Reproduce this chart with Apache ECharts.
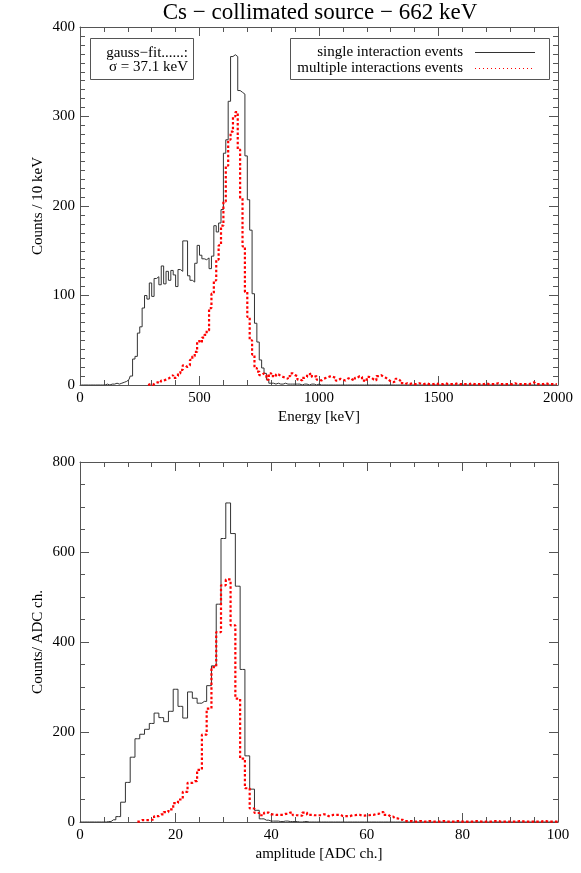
<!DOCTYPE html>
<html>
<head>
<meta charset="utf-8">
<title>Cs collimated source</title>
<script src="https://cdn.jsdelivr.net/npm/echarts/dist/echarts.min.js"></script>
<style>
  html, body { margin: 0; padding: 0; background: #fff; }
  #chart { width: 581px; height: 873px; }
</style>
</head>
<body>
<div id="chart"></div>
<script>
// energy spectrum, 10 keV bins starting at 0 keV (one row = 100 keV)
const energyBinKeV = 10;
const singleEnergy = [
  0, 0, 0, 0, 0, 0, 0, 0, 0, 0,
  0, 1, 0, 1, 1, 2, 1, 2, 3, 4,
  6, 10, 29, 32, 58, 65, 86, 100, 96, 114,
  99, 119, 121, 112, 133, 113, 127, 117, 128, 123,
  110, 129, 127, 161, 161, 122, 117, 115, 136, 156,
  145, 141, 140, 142, 130, 144, 178, 171, 181, 196,
  259, 274, 317, 367, 369, 367, 329, 327, 325, 256,
  207, 173, 102, 69, 48, 28, 19, 13, 6, 2,
  2, 1, 2, 1, 1, 2, 1, 1, 1, 1,
  1, 1, 0, 1, 1, 0, 1, 1, 0, 1,
  0, 0, 0, 0, 0, 0, 0, 0, 0, 0,
  0, 0, 0, 0, 0, 0, 0, 0, 0, 0,
  0, 0, 0, 0, 0, 0, 0, 0, 0, 0,
  0, 0, 0, 0, 0, 0, 0, 0, 0, 0,
  0, 0, 0, 0, 0, 0, 0, 0, 0, 0,
  0, 0, 0, 0, 0, 0, 0, 0, 0, 0,
  0, 0, 0, 0, 0, 0, 0, 0, 0, 0,
  0, 0, 0, 0, 0, 0, 0, 0, 0, 0,
  0, 0, 0, 0, 0, 0, 0, 0, 0, 0,
  0, 0, 0, 0, 0, 0, 0, 0, 0, 0
];
const multipleEnergy = [
  null, null, null, null, null, null, null, null, null, null,
  null, null, null, null, null, null, null, null, null, null,
  null, null, null, null, null, null, null, null, 0, 1,
  0, 2, 3, 2, 5, 6, 7, 9, 11, 8,
  10, 13, 17, 22, 20, 22, 28, 32, 37, 49,
  47, 53, 56, 61, 86, 102, 117, 140, 156, 178,
  205, 245, 274, 283, 300, 305, 263, 209, 155, 104,
  76, 50, 34, 19, 15, 11, 13, 11, 6, 13,
  10, 9, 12, 10, 9, 8, 7, 10, 13, 11,
  10, 6, 5, 8, 9, 12, 13, 9, 10, 6,
  5, 7, 8, 9, 10, 9, 8, 5, 7, 6,
  5, 7, 8, 6, 5, 8, 10, 9, 5, 4,
  9, 8, 6, 5, 10, 11, 9, 8, 6, 4,
  3, 4, 7, 5, 2, 1, 2, 1, 2, 1,
  1, 2, 1, 1, 2, 1, 1, 1, 2, 1,
  1, 1, 2, 1, 1, 1, 1, 2, 1, 1,
  1, 1, 1, 2, 1, 1, 1, 1, 1, 2,
  1, 1, 1, 1, 2, 1, 1, 1, 1, 1,
  1, 2, 1, 1, 1, 1, 1, 1, 2, 3,
  1, 1, 1, 1, 2, 1, 1, 1, 1, 1
];

// amplitude spectrum, one value per ADC channel 0..100
const singleAdc = [
  0, 0, 0, 0, 0, 0, 1, 5, 12, 44,
  88, 144, 185, 195, 206, 219, 242, 232, 223, 246,
  295, 257, 231, 289, 275, 264, 268, 303, 347, 484,
  630, 709, 641, 524, 339, 147, 73, 26, 7, 4,
  2, 2, 1, 2, 1, 1, 0, 1, 0, 0,
  0, 0, 0, 0, 0, 0, 0, 0, 0, 0,
  0, 0, 0, 0, 0, 0, 0, 0, 0, 0,
  0, 0, 0, 0, 0, 0, 0, 0, 0, 0,
  0, 0, 0, 0, 0, 0, 0, 0, 0, 0,
  0, 0, 0, 0, 0, 0, 0, 0, 0, 0,
  0
];
const multipleAdc = [
  null, null, null, null, null, null, null, null, null, null,
  null, null, 1, 4, 4, 5, 13, 17, 22, 28,
  42, 50, 67, 87, 91, 116, 194, 252, 344, 422,
  526, 539, 437, 274, 141, 75, 30, 20, 15, 21,
  17, 16, 16, 18, 21, 15, 14, 21, 16, 15,
  15, 17, 13, 16, 16, 13, 13, 15, 16, 14,
  15, 16, 18, 22, 16, 12, 8, 5, 2, 2,
  1, 2, 1, 2, 1, 1, 2, 1, 1, 2,
  1, 1, 1, 2, 1, 1, 1, 2, 1, 1,
  1, 1, 2, 1, 1, 1, 1, 2, 1, 1,
  1
];

const serif = '"Liberation Serif", "Times New Roman", serif';
const frameColor = '#555';

// histogram bins -> [center, count] pairs, empty bins dropped
function toPoints(counts, width, offset) {
  const pts = [];
  counts.forEach((c, i) => {
    if (c != null) pts.push([i * width + offset, c]);
  });
  return pts;
}

function xAxisFor(gridIndex, max, interval, minorSplit, position, name) {
  return {
    type: 'value', gridIndex: gridIndex, min: 0, max: max, interval: interval, position: position,
    name: name || '', nameLocation: 'middle', nameGap: 25, nameMoveOverlap: false,
    nameTextStyle: {fontFamily: serif, fontSize: 15, color: '#000'},
    axisLine: {show: true, onZero: false, lineStyle: {color: frameColor, width: 1}},
    axisTick: {show: true, inside: true, length: 9, lineStyle: {color: frameColor}},
    minorTick: {show: true, splitNumber: minorSplit, length: 5, lineStyle: {color: frameColor}},
    axisLabel: {show: position === 'bottom', margin: 6, fontFamily: serif, fontSize: 15, color: '#000',
      formatter: v => String(v)},
    splitLine: {show: false}
  }
}

function yAxisFor(gridIndex, max, interval, minorSplit, position, name) {
  return {
    type: 'value', gridIndex: gridIndex, min: 0, max: max, interval: interval, position: position,
    name: name || '', nameLocation: 'middle', nameGap: 34, nameRotate: 90, nameMoveOverlap: false,
    nameTextStyle: {fontFamily: serif, fontSize: 15, color: '#000'},
    axisLine: {show: true, onZero: false, lineStyle: {color: frameColor, width: 1}},
    axisTick: {show: true, inside: true, length: 9, lineStyle: {color: frameColor}},
    minorTick: {show: true, splitNumber: minorSplit, length: 5, lineStyle: {color: frameColor}},
    axisLabel: {show: position === 'left', margin: 5, fontFamily: serif, fontSize: 15, color: '#000',
      formatter: v => String(v)},
    splitLine: {show: false}
  }
}

const singleStyle = {color: '#333', width: 1};
const multipleStyle = {color: '#ff0000', width: 2.2, type: [2.5, 2.2]};

const chart = echarts.init(document.getElementById('chart'), null, {renderer: 'canvas'});
chart.setOption({
  animation: false,
  backgroundColor: '#fff',
  grid: [
    {left: 80, right: 23, top: 27, bottom: 488},
    {left: 80, right: 23, top: 462, bottom: 51}
  ],
  xAxis: [
    xAxisFor(0, 2000, 500, 5, 'bottom', 'Energy [keV]'),
    xAxisFor(0, 2000, 500, 5, 'top'),
    xAxisFor(1, 100, 20, 4, 'bottom', 'amplitude [ADC ch.]'),
    xAxisFor(1, 100, 20, 4, 'top')
  ],
  yAxis: [
    yAxisFor(0, 400, 100, 10, 'left', 'Counts / 10 keV'),
    yAxisFor(0, 400, 100, 10, 'right'),
    yAxisFor(1, 800, 200, 4, 'left', 'Counts/ ADC ch.'),
    yAxisFor(1, 800, 200, 4, 'right')
  ],
  series: [
    {
      name: 'single interaction events', type: 'line', step: 'middle', symbol: 'none',
      xAxisIndex: 0, yAxisIndex: 0, lineStyle: singleStyle,
      data: toPoints(singleEnergy, energyBinKeV, energyBinKeV / 2)
    },
    {
      name: 'multiple interactions events', type: 'line', step: 'middle', symbol: 'none',
      xAxisIndex: 0, yAxisIndex: 0, lineStyle: multipleStyle,
      data: toPoints(multipleEnergy, energyBinKeV, energyBinKeV / 2)
    },
    {
      name: 'single ADC', type: 'line', step: 'middle', symbol: 'none',
      xAxisIndex: 2, yAxisIndex: 2, lineStyle: singleStyle,
      data: toPoints(singleAdc, 1, 0)
    },
    {
      name: 'multiple ADC', type: 'line', step: 'middle', symbol: 'none',
      xAxisIndex: 2, yAxisIndex: 2, lineStyle: multipleStyle,
      data: toPoints(multipleAdc, 1, 0)
    }
  ],
  graphic: [
    {
      type: 'text', x: 320, y: 13,
      style: {text: 'Cs \u2212 collimated source \u2212 662 keV', fill: '#000', fontFamily: serif, fontSize: 23,
        textAlign: 'center', textVerticalAlign: 'middle', align: 'center', verticalAlign: 'middle'}
    },
    // fit box
    {type: 'rect', shape: {x: 90.5, y: 38.5, width: 103, height: 41},
      style: {fill: 'none', stroke: frameColor, lineWidth: 1}},
    {
      type: 'text', x: 188, y: 53,
      style: {text: 'gauss\u2212fit......:', fill: '#000', fontFamily: serif, fontSize: 15,
        textAlign: 'right', textVerticalAlign: 'middle', align: 'right', verticalAlign: 'middle'}
    },
    {
      type: 'text', x: 188, y: 67,
      style: {text: '\u03c3 = 37.1 keV', fill: '#000', fontFamily: serif, fontSize: 15,
        textAlign: 'right', textVerticalAlign: 'middle', align: 'right', verticalAlign: 'middle'}
    },
    // legend box
    {type: 'rect', shape: {x: 290.5, y: 38.5, width: 259, height: 41},
      style: {fill: 'none', stroke: frameColor, lineWidth: 1}},
    {
      type: 'text', x: 463, y: 52,
      style: {text: 'single interaction events', fill: '#000', fontFamily: serif, fontSize: 15,
        textAlign: 'right', textVerticalAlign: 'middle', align: 'right', verticalAlign: 'middle'}
    },
    {
      type: 'text', x: 463, y: 68,
      style: {text: 'multiple interactions events', fill: '#000', fontFamily: serif, fontSize: 15,
        textAlign: 'right', textVerticalAlign: 'middle', align: 'right', verticalAlign: 'middle'}
    },
    {type: 'line', shape: {x1: 475, y1: 52.5, x2: 535, y2: 52.5},
      style: {stroke: '#333', lineWidth: 1}},
    {type: 'line', shape: {x1: 475, y1: 68.5, x2: 535, y2: 68.5},
      style: {stroke: '#ff0000', lineWidth: 1, lineDash: [1, 3]}}
  ]
});
</script>
</body>
</html>
